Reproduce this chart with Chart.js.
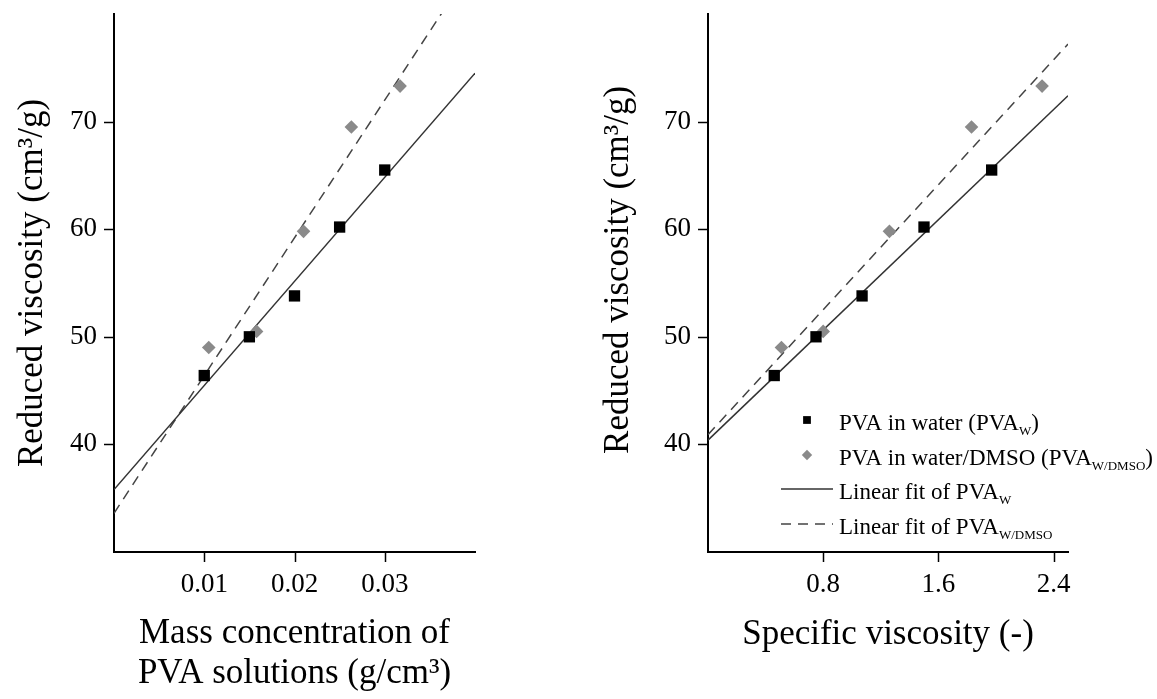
<!DOCTYPE html>
<html>
<head>
<meta charset="utf-8">
<script src="https://cdn.jsdelivr.net/npm/chart.js@4/dist/chart.umd.min.js"></script>
<style>
  html, body { margin: 0; padding: 0; background: #fff; }
  #wrap { position: relative; width: 1157px; height: 699px; }
  #left { position: absolute; left: 0; top: 0; }
  #right { position: absolute; left: 560px; top: 0; }
</style>
</head>
<body>
<div id="wrap">
  <canvas id="left" width="560" height="699"></canvas>
  <canvas id="right" width="597" height="699"></canvas>
</div>
<script>
// values
const massConcW = [0.010, 0.015, 0.020, 0.025, 0.030];
const reducedViscW = [46.4, 50.0, 53.8, 60.2, 65.5];
const massConcD = [0.0105, 0.0158, 0.0210, 0.0263, 0.0317];
const reducedViscD = [49.0, 50.5, 59.8, 69.5, 73.3];

const specViscW = [0.46, 0.75, 1.07, 1.50, 1.97];
const specViscD = [0.51, 0.80, 1.26, 1.83, 2.32];

// linear fits, end points at the axis limits
const fitConcX = [0, 0.04];
const fitConcW = [35.8, 74.5];
const fitConcD = [33.6, 84.8];
const fitSpecX = [0, 2.5];
const fitSpecW = [40.4, 72.4];
const fitSpecD = [40.9, 77.2];

// legend text: [text, subscript, text after]
const legendW = ["PVA in water (PVA", "W", ")"];
const legendD = ["PVA in water/DMSO (PVA", "W/DMSO", ")"];
const legendFitW = ["Linear fit of PVA", "W", ""];
const legendFitD = ["Linear fit of PVA", "W/DMSO", ""];

const SERIF = "'Liberation Serif', 'Times New Roman', serif";

const toPoints = (xs, ys) => xs.map((x, i) => ({ x: x, y: ys[i] }));

// draw major / minor tick marks outside the axes
const tickMarks = {
  id: "tickMarks",
  afterDraw(chart) {
    const ctx = chart.ctx;
    const area = chart.chartArea;
    ctx.save();
    ctx.strokeStyle = "#000";
    ctx.lineWidth = 1.5;
    ["x", "y"].forEach((id) => {
      const scale = chart.scales[id];
      scale.ticks.forEach((t) => {
        if (t.value <= scale.min || t.value >= scale.max) return;
        const len = t.label != null ? 10 : 6;
        const p = Math.round(scale.getPixelForValue(t.value)) + 0.5;
        ctx.beginPath();
        if (id === "x") {
          ctx.moveTo(p, area.bottom);
          ctx.lineTo(p, area.bottom + len);
        } else {
          ctx.moveTo(area.left - len, p);
          ctx.lineTo(area.left, p);
        }
        ctx.stroke();
      });
    });
    ctx.restore();
  }
};

// legend with subscripts, only on the right panel
const subLegend = {
  id: "subLegend",
  afterDraw(chart, args, opts) {
    if (!opts.show) return;
    const ctx = chart.ctx;
    const area = chart.chartArea;
    const rows = [-132, -97, -63, -28];
    ctx.save();
    chart.data.datasets.forEach((ds, i) => {
      const y = area.bottom + rows[i];
      const mx = area.left + 99;
      if (ds.showLine) {
        ctx.strokeStyle = ds.borderColor;
        ctx.lineWidth = ds.borderWidth;
        ctx.setLineDash(ds.borderDash || []);
        ctx.beginPath();
        ctx.moveTo(area.left + 73, y);
        ctx.lineTo(area.left + 125, y);
        ctx.stroke();
        ctx.setLineDash([]);
      } else {
        ctx.fillStyle = ds.backgroundColor;
        Chart.helpers.drawPoint(ctx, {
          pointStyle: ds.pointStyle,
          radius: ds.legendRadius,
          rotation: 0,
          borderWidth: 0
        }, mx, y);
      }
      const parts = ds.legendParts;
      let x = area.left + 131;
      const base = y + 10;
      ctx.fillStyle = "#000";
      ctx.textBaseline = "alphabetic";
      ctx.textAlign = "left";
      ctx.font = "23px " + SERIF;
      ctx.fillText(parts[0], x, base);
      x += ctx.measureText(parts[0]).width;
      ctx.font = "13px " + SERIF;
      ctx.fillText(parts[1], x, base + 5);
      x += ctx.measureText(parts[1]).width;
      ctx.font = "23px " + SERIF;
      ctx.fillText(parts[2], x, base);
    });
    ctx.restore();
  }
};

function makeDatasets(xW, xD, fitX, fitW, fitD) {
  return [
    {
      label: legendW.join(""),
      legendParts: legendW,
      data: toPoints(xW, reducedViscW),
      pointStyle: "rect",
      pointRadius: 8,
      legendRadius: 5.5,
      backgroundColor: "#000",
      borderWidth: 0,
      order: 1
    },
    {
      label: legendD.join(""),
      legendParts: legendD,
      data: toPoints(xD, reducedViscD),
      pointStyle: "rectRot",
      pointRadius: 6.8,
      legendRadius: 5.2,
      backgroundColor: "#8a8a8a",
      borderWidth: 0,
      order: 1
    },
    {
      label: legendFitW.join(""),
      legendParts: legendFitW,
      data: toPoints(fitX, fitW),
      showLine: true,
      pointRadius: 0,
      borderColor: "#333",
      borderWidth: 1.5,
      order: 2
    },
    {
      label: legendFitD.join(""),
      legendParts: legendFitD,
      data: toPoints(fitX, fitD),
      showLine: true,
      pointRadius: 0,
      borderColor: "#444",
      borderWidth: 1.5,
      borderDash: [10, 7],
      order: 2
    }
  ];
}

function makeOptions(cfg) {
  return {
    responsive: false,
    animation: false,
    events: [],
    layout: { padding: { top: 14, right: cfg.padRight, left: 0, bottom: 0 } },
    plugins: {
      legend: { display: false },
      tooltip: { enabled: false },
      subLegend: { show: cfg.legend }
    },
    scales: {
      x: {
        type: "linear",
        min: cfg.xMin,
        max: cfg.xMax,
        afterFit: (s) => {
          s.height = 147;
          s.paddingLeft = 0;
          s.paddingRight = 0;
        },
        grid: { display: false, drawTicks: false },
        border: { display: true, color: "#000", width: 2 },
        ticks: {
          stepSize: cfg.xStep,
          includeBounds: false,
          autoSkip: false,
          maxRotation: 0,
          padding: 17,
          color: "#000",
          font: { family: SERIF, size: 27 },
          callback: cfg.xLabel
        },
        title: {
          display: true,
          text: cfg.xTitle,
          color: "#000",
          font: { family: SERIF, size: 35, lineHeight: 40 / 35 },
          padding: { top: 0, bottom: cfg.xTitlePad }
        }
      },
      y: {
        type: "linear",
        min: 30,
        max: 80,
        afterFit: (s) => {
          s.width = cfg.yWidth;
          s.paddingTop = 0;
          s.paddingBottom = 0;
        },
        grid: { display: false, drawTicks: false },
        border: { display: true, color: "#000", width: 2 },
        ticks: {
          stepSize: 5,
          includeBounds: false,
          autoSkip: false,
          padding: 17,
          color: "#000",
          font: { family: SERIF, size: 27 },
          callback: (v) => (v % 10 === 0 && v > 30 && v < 80 ? String(v) : null)
        },
        title: {
          display: true,
          text: cfg.yTitle,
          color: "#000",
          font: { family: SERIF, size: 35, lineHeight: 40 / 35 },
          padding: { top: cfg.yTitlePad, bottom: 0 }
        }
      }
    }
  };
}

new Chart(document.getElementById("left"), {
  type: "scatter",
  data: { datasets: makeDatasets(massConcW, massConcD, fitConcX, fitConcW, fitConcD) },
  options: makeOptions({
    padRight: 85,
    legend: false,
    xMin: 0,
    xMax: 0.04,
    xStep: 0.005,
    xLabel: (v) => {
      const k = Math.round(v * 1000);
      return k % 10 === 0 && k > 0 && k < 40 ? v.toFixed(2) : null;
    },
    xTitle: ["Mass concentration of", "PVA solutions (g/cm\u00b3)"],
    xTitlePad: 5,
    yWidth: 114,
    yTitle: "Reduced viscosity (cm\u00b3/g)",
    yTitlePad: 13
  }),
  plugins: [tickMarks, subLegend]
});

new Chart(document.getElementById("right"), {
  type: "scatter",
  data: { datasets: makeDatasets(specViscW, specViscD, fitSpecX, fitSpecW, fitSpecD) },
  options: makeOptions({
    padRight: 89,
    legend: true,
    xMin: 0,
    xMax: 2.5,
    xStep: 0.4,
    xLabel: (v) => {
      const k = Math.round(v * 10);
      return k % 8 === 0 && k > 0 && k < 25 ? v.toFixed(1) : null;
    },
    xTitle: "Specific viscosity (-)",
    xTitlePad: 44,
    yWidth: 148,
    yTitle: "   Reduced viscosity (cm\u00b3/g)",
    yTitlePad: 39
  }),
  plugins: [tickMarks, subLegend]
});
</script>
</body>
</html>
